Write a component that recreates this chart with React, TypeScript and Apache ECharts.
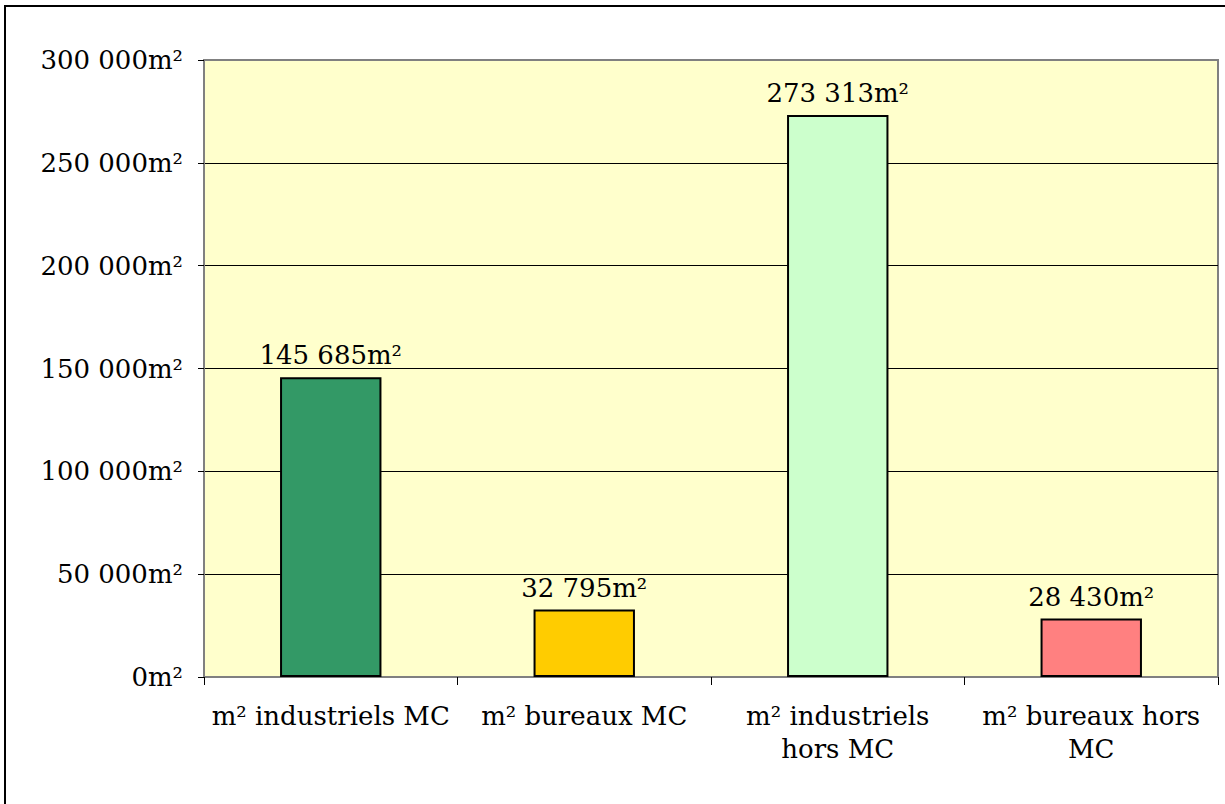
import React, { useEffect, useRef } from "react";
import * as echarts from "echarts";

const categories = [
  "m² industriels MC",
  "m² bureaux MC",
  "m² industriels hors MC",
  "m² bureaux hors MC",
];
// category labels as wrapped in the reference
const categoryLines = [
  ["m² industriels MC"],
  ["m² bureaux MC"],
  ["m² industriels", "hors MC"],
  ["m² bureaux hors", "MC"],
];
const values = [145685, 32795, 273313, 28430];
const barColors = ["#339966", "#FFCC00", "#CCFFCC", "#FF8080"];
const yMin = 0;
const yMax = 300000;
const yInterval = 50000;

const FONT = "DejaVu Serif";

function fmt(v: number): string {
  const s = Math.round(v).toString().replace(/\B(?=(\d{3})+(?!\d))/g, " ");
  return s + "m²";
}

export default function App() {
  const ref = useRef<HTMLDivElement>(null);
  useEffect(() => {
    if (!ref.current) return;
    const chart = echarts.init(ref.current, null, { renderer: "svg" });
    chart.setOption({
      animation: false,
      backgroundColor: "#ffffff",
      textStyle: { fontFamily: FONT },
      graphic: [
        {
          type: "rect",
          shape: { x: 5, y: 6, width: 1240, height: 820 },
          style: { fill: "none", stroke: "#000000", lineWidth: 2 },
          silent: true,
        },
      ],
      grid: {
        left: 204,
        top: 60,
        right: 7,
        bottom: 127,
        show: true,
        backgroundColor: "#FFFFCC",
        borderColor: "#808080",
        borderWidth: 2,
      },
      xAxis: {
        type: "category",
        data: categories,
        axisLine: { show: true, lineStyle: { color: "#808080", width: 2 } },
        axisTick: {
          show: true,
          alignWithLabel: false,
          length: 8,
          lineStyle: { color: "#000000", width: 1 },
        },
        axisLabel: {
          interval: 0,
          color: "#000000",
          fontFamily: FONT,
          fontSize: 26,
          margin: 22,
          lineHeight: 33,
          formatter: (v: string) => {
            const i = categories.indexOf(v);
            return i >= 0 ? categoryLines[i].join("\n") : v;
          },
        },
      },
      yAxis: {
        type: "value",
        min: yMin,
        max: yMax,
        interval: yInterval,
        axisLine: { show: true, lineStyle: { color: "#808080", width: 2 } },
        axisTick: { show: true, length: 6, lineStyle: { color: "#000000" } },
        axisLabel: {
          color: "#000000",
          fontFamily: FONT,
          fontSize: 26,
          margin: 21,
          formatter: (v: number) => fmt(v),
        },
        splitLine: {
          show: true,
          lineStyle: {
            color: ["#808080", "#000000", "#000000", "#000000", "#000000", "#000000", "#808080"],
            width: 1,
          },
        },
      },
      series: [
        {
          type: "bar",
          data: values.map((v, i) => ({
            value: v,
            itemStyle: { color: barColors[i] },
          })),
          barWidth: "40%",
          itemStyle: { borderColor: "#000000", borderWidth: 2 },
          label: {
            show: true,
            position: "top",
            distance: 9,
            color: "#000000",
            fontFamily: FONT,
            fontSize: 26,
            formatter: (p: any) => fmt(p.value),
          },
        },
      ],
    });
    return () => chart.dispose();
  }, []);
  return (
    <div
      ref={ref}
      style={{ position: "absolute", left: 0, top: 0, width: 1225, height: 804 }}
    />
  );
}
